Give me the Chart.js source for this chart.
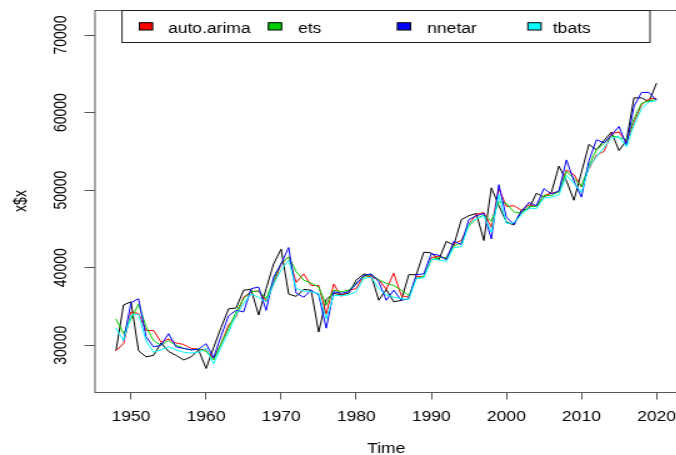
<!DOCTYPE html>
<html>
<head>
<meta charset="utf-8">
<script src="https://cdn.jsdelivr.net/npm/chart.js@4.4.0/dist/chart.umd.min.js"></script>
<style>
html, body { margin:0; padding:0; background:#fff; overflow:hidden; }
#wrap { width:676px; height:455px; overflow:hidden; }
#chart { display:block; transform:scaleX(1.25); transform-origin:0 0; }
</style>
</head>
<body>
<div id="wrap"><canvas id="chart" width="544" height="455"></canvas></div>
<script>
// yearly series, 1948 - 2020
const years = [1948, 1949, 1950, 1951, 1952, 1953, 1954, 1955, 1956, 1957,
    1958, 1959, 1960, 1961, 1962, 1963, 1964, 1965, 1966, 1967,
    1968, 1969, 1970, 1971, 1972, 1973, 1974, 1975, 1976, 1977,
    1978, 1979, 1980, 1981, 1982, 1983, 1984, 1985, 1986, 1987,
    1988, 1989, 1990, 1991, 1992, 1993, 1994, 1995, 1996, 1997,
    1998, 1999, 2000, 2001, 2002, 2003, 2004, 2005, 2006, 2007,
    2008, 2009, 2010, 2011, 2012, 2013, 2014, 2015, 2016, 2017,
    2018, 2019, 2020];

const xTicks = [1950, 1960, 1970, 1980, 1990, 2000, 2010, 2020];
const yTicks = [30000, 40000, 50000, 60000, 70000];

const actual = [29300, 35200, 35600, 29300, 28500, 28700, 30300, 29200, 28700, 28100,
    28500, 29400, 27000, 29700, 32300, 34700, 34800, 37100, 37200, 33900,
    37300, 40500, 42400, 36600, 36300, 37200, 37100, 31700, 35900, 36700,
    36500, 36700, 38400, 39200, 39000, 35800, 37200, 35600, 35800, 39100,
    39100, 42000, 41900, 41000, 43400, 42900, 46200, 46700, 47000, 43500,
    50300, 48000, 45900, 45500, 47400, 47600, 49600, 49100, 49700, 53100,
    51200, 48700, 52300, 55900, 55200, 56400, 57500, 55100, 56400, 61900,
    61900, 61400, 63800];

const arimaFit = [29300, 30200, 34300, 34100, 31900, 31900, 30400, 30800, 30300, 30100,
    29600, 29500, 29400, 28300, 30200, 32600, 33700, 36200, 36900, 37000,
    35700, 37900, 40500, 41400, 38100, 39200, 37700, 37700, 34000, 37900,
    36300, 37100, 37300, 39000, 38800, 38500, 37200, 39300, 36400, 36200,
    38900, 38800, 41300, 41500, 41200, 43100, 43500, 45600, 46900, 47100,
    45200, 50200, 47900, 48000, 47400, 48100, 47900, 49300, 49600, 49800,
    52600, 52000, 50400, 52800, 54500, 55000, 57300, 57500, 56200, 58800,
    61000, 61800, 61800];

const etsFit = [33400, 31500, 33400, 35300, 32400, 30600, 30000, 30600, 30000, 29600,
    29400, 29500, 29200, 28100, 30200, 32200, 34300, 36000, 36900, 37000,
    36000, 38400, 40600, 41400, 39500, 38400, 38000, 37500, 35200, 37100,
    36900, 37100, 38000, 38800, 39200, 38400, 38000, 37700, 37100, 36400,
    38600, 38900, 41000, 41300, 41300, 42800, 43200, 45400, 46300, 46800,
    46000, 48500, 48300, 47200, 47000, 47900, 47900, 49300, 49300, 49800,
    52400, 51500, 50500, 53200, 55200, 56000, 57000, 56800, 56500, 59200,
    61200, 61500, 61700];

const nnetarFit = [null, 30600, 35500, 36000, 31100, 29800, 30000, 31500, 29800, 29600,
    29400, 29500, 30200, 28400, 31200, 33800, 34500, 34300, 37300, 37500,
    34500, 38800, 40500, 42600, 36700, 36200, 37100, 36500, 32200, 36900,
    36700, 36900, 37900, 39000, 39200, 38200, 35800, 37100, 35800, 36000,
    39100, 39200, 41800, 41600, 41000, 43400, 43000, 46200, 46700, 47000,
    43700, 50700, 46500, 45600, 47200, 48400, 48000, 50200, 49500, 49900,
    53900, 51200, 49100, 53800, 56500, 56100, 57100, 58200, 55800, 60800,
    62600, 62600, 61600];

const tbatsFit = [32200, 30600, 33900, 34000, 30600, 29100, 29400, 29800, 29400, 29100,
    29000, 29100, 29600, 27600, 29800, 31700, 33900, 35400, 36600, 36200,
    35600, 37900, 39700, 41000, 37300, 37000, 36900, 36700, 33400, 36400,
    36400, 36500, 36900, 38600, 38800, 37300, 36500, 36200, 36000, 35900,
    38600, 38700, 41100, 41000, 40800, 42600, 42700, 45600, 46300, 46700,
    44600, 49400, 45700, 45800, 46800, 47700, 47600, 49000, 49100, 49400,
    51900, 50900, 49700, 53000, 54300, 55500, 56700, 56900, 55600, 58400,
    60500, 61400, 61500];

const modelNames = ['auto.arima', 'ets', 'nnetar', 'tbats'];
const modelColors = ['#ff0000', '#00cd00', '#0000ff', '#00ffff'];

const FONT = '14px "Liberation Sans", Arial, sans-serif';

function points(values) {
    let out = [];
    for (let i = 0; i < years.length; i++) {
        out.push({x: years[i], y: values[i]});
    }
    return out;
}

function fixedTicks(list) {
    return function (scale) {
        scale.ticks = list.map(function (v) { return {value: v}; });
    };
}

// R style box, rotated y labels, axis titles and legend
const rPlot = {
    id: 'rPlot',
    afterDraw(chart) {
        let ctx = chart.ctx;
        let a = chart.chartArea;
        let xs = chart.scales.x;
        let ys = chart.scales.y;
        ctx.save();
        ctx.strokeStyle = '#555';
        ctx.lineWidth = 1;
        ctx.strokeRect(a.left + 0.5, a.top + 0.5, a.right - a.left, a.bottom - a.top);

        ctx.fillStyle = '#000';
        ctx.font = FONT;
        ctx.textAlign = 'center';
        ctx.textBaseline = 'alphabetic';
        xs.ticks.forEach(function (t) {
            ctx.fillText(String(t.value), xs.getPixelForValue(t.value), 421);
        });
        ys.ticks.forEach(function (t) {
            ctx.save();
            ctx.translate(53.4, ys.getPixelForValue(t.value));
            ctx.rotate(-Math.PI / 2);
            ctx.fillText(String(t.value), 0, 0);
            ctx.restore();
        });
        ctx.fillText('Time', (a.left + a.right) / 2, 452.5);
        ctx.save();
        ctx.translate(20.8, (a.top + a.bottom) / 2);
        ctx.rotate(-Math.PI / 2);
        ctx.fillText('x$x', 0, 0);
        ctx.restore();

        // legend
        ctx.strokeStyle = '#222';
        ctx.strokeRect(97.6, 10.5, 422.4, 32);
        let boxX = [116.8, 220, 323.2, 427.6];
        let textX = [134.4, 238.4, 341.8, 442.2];
        ctx.textAlign = 'left';
        for (let i = 0; i < modelNames.length; i++) {
            ctx.fillStyle = modelColors[i];
            ctx.fillRect(boxX[i] - 5.3, 22.7, 10.6, 7.3);
            ctx.strokeStyle = '#000';
            ctx.strokeRect(boxX[i] - 5.3, 22.7, 10.6, 7.3);
            ctx.fillStyle = '#000';
            ctx.fillText(modelNames[i], textX[i], 32.5);
        }
        ctx.restore();
    }
};

function line(label, values, color, order) {
    return {
        label: label,
        data: points(values),
        borderColor: color,
        borderWidth: 1,
        pointRadius: 0,
        tension: 0,
        fill: false,
        order: order
    };
}

let ctx = document.getElementById('chart').getContext('2d');
let myChart = new Chart(ctx, {
    type: 'line',
    data: {
        datasets: [
            line('x', actual, '#000000', 5),
            line(modelNames[0], arimaFit, modelColors[0], 4),
            line(modelNames[1], etsFit, modelColors[1], 3),
            line(modelNames[2], nnetarFit, modelColors[2], 2),
            line(modelNames[3], tbatsFit, modelColors[3], 1)
        ]
    },
    options: {
        responsive: false,
        animation: false,
        events: [],
        layout: { padding: { left: 0, right: 1.5, top: 10, bottom: 0 } },
        plugins: { legend: { display: false }, tooltip: { enabled: false } },
        scales: {
            x: {
                type: 'linear',
                min: 1945.12,
                max: 2022.88,
                ticks: { display: false },
                grid: { drawOnChartArea: false, drawTicks: true, tickLength: 7.5, color: '#555' },
                border: { display: false },
                afterBuildTicks: fixedTicks(xTicks),
                afterFit: function (scale) { scale.height = 63; }
            },
            y: {
                min: 23974,
                max: 73226,
                ticks: { display: false },
                grid: { drawOnChartArea: false, drawTicks: true, tickLength: 8, color: '#555' },
                border: { display: false },
                afterBuildTicks: fixedTicks(yTicks),
                afterFit: function (scale) { scale.width = 75.5; }
            }
        }
    },
    plugins: [rPlot]
});
</script>
</body>
</html>
